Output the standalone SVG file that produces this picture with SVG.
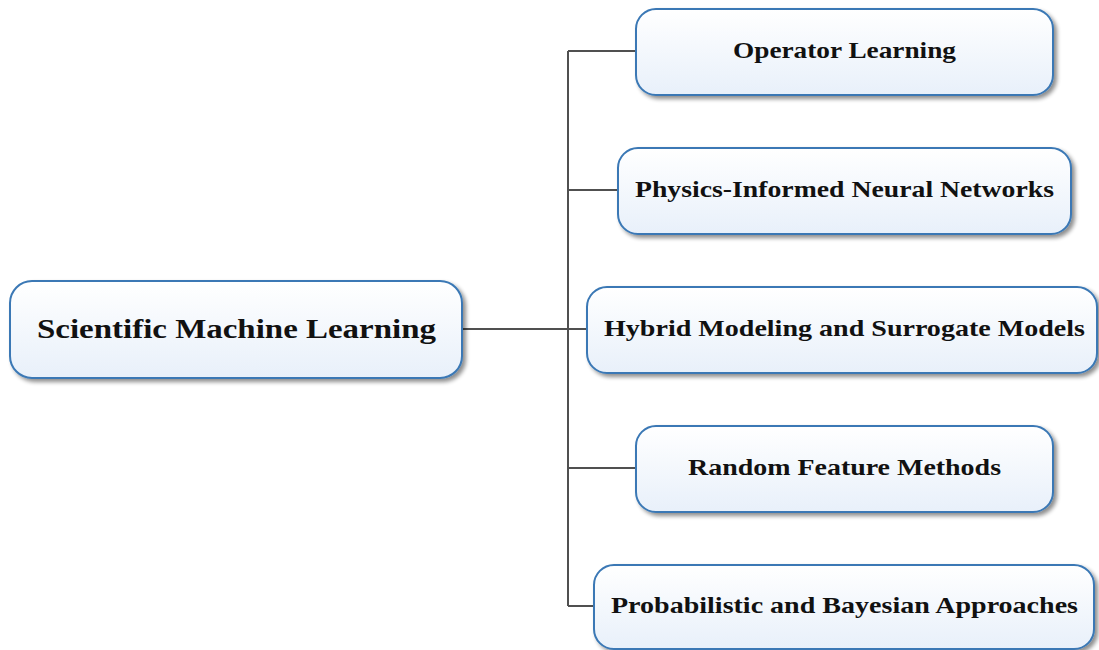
<svg xmlns="http://www.w3.org/2000/svg" width="1099" height="650" viewBox="0 0 1099 650">
  <defs>
    <linearGradient id="boxFill" x1="0" y1="0" x2="0" y2="1">
      <stop offset="0" stop-color="#ffffff"/>
      <stop offset="1" stop-color="#e8f0fa"/>
    </linearGradient>
    <filter id="shadow" x="-10%" y="-20%" width="125%" height="150%">
      <feGaussianBlur in="SourceAlpha" stdDeviation="2"/>
      <feOffset dx="3" dy="3" result="b"/>
      <feComponentTransfer><feFuncA type="linear" slope="0.45"/></feComponentTransfer>
      <feMerge><feMergeNode/><feMergeNode in="SourceGraphic"/></feMerge>
    </filter>
    <style>
      .box { fill: url(#boxFill); stroke: #3a78b5; stroke-width: 2; filter: url(#shadow); }
      .lbl { font-family: "Liberation Serif", "DejaVu Serif", serif; font-weight: bold; fill: #111; text-anchor: middle; }
      .child { font-size: 24px; }
      .root { font-size: 28px; }
      .wire { fill: none; stroke: #505050; stroke-width: 2; }
    </style>
  </defs>

  <!-- tree connectors -->
  <g id="connectors">
    <path class="wire" d="M462 329 H587"/>
    <path class="wire" d="M568 51 V606"/>
    <path class="wire" d="M568 51 H636"/>
    <path class="wire" d="M568 190 H618"/>
    <path class="wire" d="M568 468 H636"/>
    <path class="wire" d="M568 606 H594"/>
  </g>

  <g id="root">
    <rect class="box" x="10" y="281" width="452" height="97" rx="22"/>
    <text class="lbl root" x="236.5" y="338" textLength="399" lengthAdjust="spacingAndGlyphs">Scientific Machine Learning</text>
  </g>

  <g id="operator-learning">
    <rect class="box" x="636" y="9" width="417" height="86" rx="20"/>
    <text class="lbl child" x="844.5" y="58" textLength="223" lengthAdjust="spacingAndGlyphs">Operator Learning</text>
  </g>

  <g id="pinns">
    <rect class="box" x="618" y="148" width="453" height="86" rx="20"/>
    <text class="lbl child" x="844.5" y="197" textLength="419" lengthAdjust="spacingAndGlyphs">Physics-Informed Neural Networks</text>
  </g>

  <g id="hybrid-modeling">
    <rect class="box" x="587" y="287" width="510" height="86" rx="20"/>
    <text class="lbl child" x="844.5" y="336" textLength="481" lengthAdjust="spacingAndGlyphs">Hybrid Modeling and Surrogate Models</text>
  </g>

  <g id="random-features">
    <rect class="box" x="636" y="426" width="417" height="86" rx="20"/>
    <text class="lbl child" x="844.5" y="475" textLength="313" lengthAdjust="spacingAndGlyphs">Random Feature Methods</text>
  </g>

  <g id="probabilistic">
    <rect class="box" x="594" y="565" width="500" height="84" rx="20"/>
    <text class="lbl child" x="844.5" y="613" textLength="467" lengthAdjust="spacingAndGlyphs">Probabilistic and Bayesian Approaches</text>
  </g>
</svg>
